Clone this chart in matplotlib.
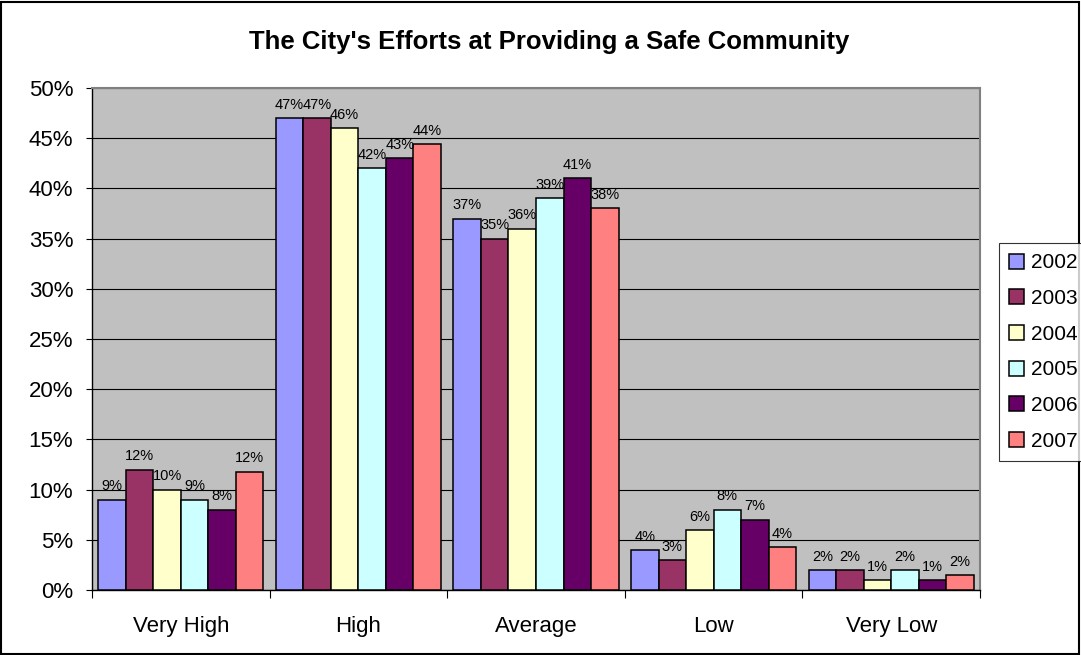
import matplotlib
matplotlib.use("Agg")
import matplotlib.pyplot as plt
from matplotlib.patches import Rectangle
import numpy as np

plt.rcParams["font.family"] = ["Liberation Sans", "DejaVu Sans"]

# ── Data ──────────────────────────────────────────────────────────────────────
categories = ["Very High", "High", "Average", "Low", "Very Low"]
years = ["2002", "2003", "2004", "2005", "2006", "2007"]

v2002 = [9.0, 47.0, 37.0, 4.0, 2.0]
v2003 = [12.0, 47.0, 35.0, 3.0, 2.0]
v2004 = [10.0, 46.0, 36.0, 6.0, 1.0]
v2005 = [9.0, 42.0, 39.0, 8.0, 2.0]
v2006 = [8.0, 43.0, 41.0, 7.0, 1.0]
v2007 = [11.8, 44.4, 38.0, 4.3, 1.5]

series = [v2002, v2003, v2004, v2005, v2006, v2007]
colors = ["#9999FF", "#993366", "#FFFFCC", "#CCFFFF", "#660066", "#FF8080"]

yticks = [0, 5, 10, 15, 20, 25, 30, 35, 40, 45, 50]

# ── Figure ────────────────────────────────────────────────────────────────────
W, H = 1081, 655
fig = plt.figure(figsize=(W / 100, H / 100), dpi=100)
ax = fig.add_axes([92 / W, 1 - 590 / H, 888 / W, 502 / H])
ax.set_facecolor("#C0C0C0")

x = np.arange(len(categories))
bw = 0.155
for i, (vals, col, yr) in enumerate(zip(series, colors, years)):
    pos = x + (i - 2.5) * bw
    ax.bar(pos, vals, width=bw, color=col, edgecolor="black", linewidth=1.1,
           label=yr, zorder=3)
    for px, v in zip(pos, vals):
        ax.annotate(f"{round(v):d}%", xy=(px, v), xytext=(0, 4.5),
                    textcoords="offset points", ha="center", va="bottom",
                    fontsize=10.5, zorder=4)

ax.set_xlim(-0.5, len(categories) - 0.5)
ax.set_ylim(0, 50)
ax.set_yticks(yticks)
ax.set_yticklabels([f"{t}%" for t in yticks], fontsize=16)
ax.yaxis.grid(True, color="black", linewidth=0.8, zorder=1)
ax.set_axisbelow(True)

# major ticks at category boundaries, labels on minor ticks
ax.set_xticks(np.arange(-0.5, len(categories), 1.0))
ax.set_xticklabels([])
ax.set_xticks(x, minor=True)
ax.set_xticklabels(categories, minor=True, fontsize=16)
ax.tick_params(axis="x", which="major", direction="out", length=6, width=0.8)
ax.tick_params(axis="x", which="minor", length=0, pad=19)
ax.tick_params(axis="y", direction="out", length=4.5, width=0.8, pad=9)

for s in ["left", "bottom"]:
    ax.spines[s].set_color("black")
    ax.spines[s].set_linewidth(1.0)
for s in ["top", "right"]:
    ax.spines[s].set_color("#808080")
    ax.spines[s].set_linewidth(1.5)

fig.text(549 / W, 1 - 42 / H, "The City's Efforts at Providing a Safe Community",
         ha="center", va="center", fontsize=18.5, fontweight="bold")

leg = fig.legend(loc="upper left", bbox_to_anchor=(999 / W, 1 - 243 / H),
                 fontsize=15, handlelength=0.72, handleheight=0.72,
                 handletextpad=0.3, labelspacing=0.8, borderaxespad=0,
                 borderpad=0.5, frameon=True, fancybox=False)
leg.get_frame().set_edgecolor("black")
leg.get_frame().set_linewidth(0.8)

# outer chart border
fig.patches.append(Rectangle((1 / W, 1 / H), (W - 3) / W, (H - 3) / H,
                             transform=fig.transFigure, fill=False,
                             edgecolor="black", linewidth=1.5))

fig.savefig("out.png", dpi=100)
